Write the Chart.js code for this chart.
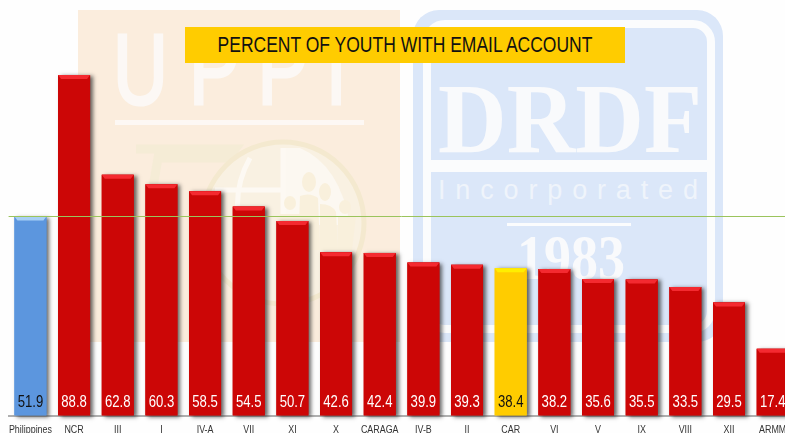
<!DOCTYPE html>
<html><head><meta charset="utf-8">
<script src="https://cdn.jsdelivr.net/npm/chart.js@4"></script>
<style>
html,body{margin:0;padding:0;width:785px;height:433px;overflow:hidden;background:#fff}
#wrap{position:relative;width:785px;height:433px;overflow:hidden;background:#fefefe}
#wrap>*{position:absolute}
canvas{left:0;top:0}
#title{left:185px;top:27px;width:440px;height:36px;background:#ffcc00;color:#111;font:22px "Liberation Sans",sans-serif;line-height:36px;white-space:nowrap;overflow:hidden}
#title span{position:absolute;left:50%;top:0;transform:translateX(-50%) scaleX(.795);transform-origin:center}
</style></head><body>
<div id="wrap">
<svg width="785" height="433" style="left:0;top:0">
  <rect x="78" y="10" width="322" height="332" fill="#fbeddd"/>
  <text transform="translate(113,104) scale(.76,1)" x="0 100 190 280" font-family="Liberation Sans" font-size="100" fill="#fcf8f5" stroke="#fcf8f5" stroke-width="3">UPPI</text>
  <rect x="115" y="120" width="249" height="5" fill="#fdf8f4"/>
  <path d="M136 149H235L228 158H158L150 205" fill="none" stroke="#f5ecd6" stroke-width="9"/>
  <circle cx="283" cy="223" r="81" fill="#f9f1e2" stroke="#f4e9cf" stroke-width="5"/>
  <path d="M283 148H300Q340 165 350 225H283Z" fill="#fcf8f1"/>
  <path d="M283 148V300M215 190H283M250 158Q232 190 240 225" fill="none" stroke="#fdf9f3" stroke-width="5"/>
  <g fill="#f9f0dc">
    <ellipse cx="309" cy="182" rx="7" ry="10"/><ellipse cx="325" cy="192" rx="6" ry="9"/>
    <ellipse cx="290" cy="203" rx="6" ry="7"/><ellipse cx="345" cy="207" rx="6" ry="7"/>
    <path d="M300 196Q310 192 318 198L320 250H298Z"/><path d="M320 204Q332 204 336 212L338 250H320Z"/>
    <path d="M280 214H300V250H280Z"/><path d="M338 216H356L352 250H338Z"/>
  </g>
  <rect x="413" y="10" width="310" height="332" rx="26" fill="#dbe7f9"/>
  <rect x="427" y="24" width="284" height="305" rx="18" fill="none" stroke="#fbfcfd" stroke-width="8"/>
  <rect x="431" y="160" width="276" height="12" fill="#fbfcfd"/>
  <text x="438" y="152" font-family="Liberation Serif" font-weight="bold" font-size="100" fill="#f9fafc" textLength="264" lengthAdjust="spacingAndGlyphs">DRDF</text>
  <text x="438" y="199" font-family="Liberation Sans" font-size="27" fill="#eff4fb" textLength="260" lengthAdjust="spacing">Incorporated</text>
  <rect x="507" y="223" width="124" height="3" fill="#fbfcfd"/>
  <text x="517" y="279" font-family="Liberation Serif" font-weight="bold" font-size="64" fill="#f9fafc" textLength="108" lengthAdjust="spacingAndGlyphs">1983</text>
</svg>
<canvas id="c" width="803" height="433" style="width:803px;height:433px"></canvas>
<div id="title"><span>PERCENT OF YOUTH WITH EMAIL ACCOUNT</span></div>
</div>
<script>
const categories = ["Philippines","NCR","III","I","IV-A","VII","XI","X","CARAGA","IV-B","II","CAR","VI","V","IX","VIII","XII","ARMM"];
const percentWithEmail = [51.9,88.8,62.8,60.3,58.5,54.5,50.7,42.6,42.4,39.9,39.3,38.4,38.2,35.6,35.5,33.5,29.5,17.4];
const nationalAverage = 51.9;
const RED="#cc0606", BLUE="#5c96de", GOLD="#ffcc00";
const barColors = categories.map(c => c==="Philippines" ? BLUE : c==="CAR" ? GOLD : RED);
const bevelColors = categories.map(c => c==="Philippines" ? "#a8d0f5" : c==="CAR" ? "#ffee00" : "#f42a30");
const labelColors = categories.map(c => (c==="Philippines"||c==="CAR") ? "#111111" : "#ffffff");
const FONT = '"Liberation Sans",sans-serif';

function narrowText(ctx,text,x,y,font,sx){
  ctx.save();ctx.translate(x,y);ctx.scale(sx,1);ctx.font=font;ctx.textAlign="center";ctx.textBaseline="alphabetic";
  ctx.fillText(text,0,0);ctx.restore();
}
const barDecor = {
  id:"barDecor",
  beforeDatasetsDraw(chart){
    const ctx=chart.ctx; ctx.save();
    ctx.shadowColor="rgba(40,40,40,.7)"; ctx.shadowBlur=4; ctx.shadowOffsetX=3; ctx.shadowOffsetY=1;
    chart.getDatasetMeta(0).data.forEach((b,i)=>{
      ctx.fillStyle=barColors[i];
      ctx.fillRect(b.x-b.width/2,b.y,b.width,b.base-b.y);
    });
    ctx.restore();
  },
  afterDatasetsDraw(chart){
    const ctx=chart.ctx, {left,right}=chart.chartArea, xs=chart.scales.x; ctx.save();
    chart.getDatasetMeta(0).data.forEach((b,i)=>{
      const l=b.x-b.width/2, r=b.x+b.width/2;
      ctx.fillStyle=bevelColors[i];
      ctx.beginPath();ctx.moveTo(l,b.y);ctx.lineTo(r,b.y);ctx.lineTo(r-3,b.y+4);ctx.lineTo(l+3,b.y+4);ctx.closePath();ctx.fill();
      ctx.fillStyle=labelColors[i];
      narrowText(ctx,percentWithEmail[i].toFixed(1),b.x,b.base-8.5,"16px "+FONT,.82);
      ctx.fillStyle="#333";
      narrowText(ctx,categories[i],xs.getPixelForValue(i),433,"11px "+FONT,.81);
    });
    const y=Math.floor(chart.scales.y.getPixelForValue(nationalAverage))+0.5;
    ctx.strokeStyle="#9bc45c"; ctx.lineWidth=1;
    ctx.beginPath();ctx.moveTo(left,y);ctx.lineTo(right,y);ctx.stroke();
    ctx.restore();
  }
};

new Chart(document.getElementById("c"),{
  type:"bar",
  data:{labels:categories,datasets:[{data:percentWithEmail,backgroundColor:barColors,barPercentage:0.733,categoryPercentage:1}]},
  plugins:[barDecor],
  options:{
    responsive:false,animation:false,
    layout:{padding:{left:8.6,right:8.5,top:32.1,bottom:17.5},autoPadding:false},
    plugins:{legend:{display:false},tooltip:{enabled:false},title:{display:false}},
    scales:{
      x:{grid:{display:false,drawTicks:false},border:{color:"#b0b0b0",width:2},ticks:{display:false}},
      y:{display:false,min:0,max:100}
    }
  }
});
</script>
</body></html>
